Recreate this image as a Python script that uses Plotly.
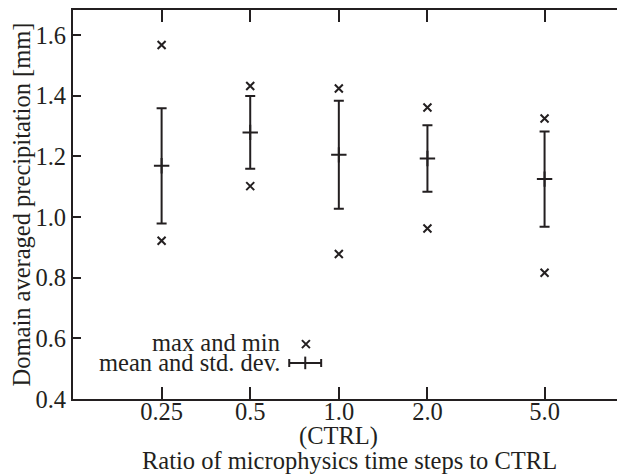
import math
import plotly.graph_objects as go

ratios = [0.25, 0.5, 1.0, 2.0, 5.0]
mean_vals = [1.169, 1.279, 1.205, 1.193, 1.125]
std_vals = [0.19, 0.12, 0.178, 0.11, 0.157]
max_vals = [1.567, 1.432, 1.424, 1.361, 1.325]
min_vals = [0.922, 1.102, 0.878, 0.962, 0.816]
tick_text = ["0.25", "0.5", "1.0", "2.0", "5.0"]
ytick_vals = [0.4, 0.6, 0.8, 1.0, 1.2, 1.4, 1.6]
ytick_text = ["0.4", "0.6", "0.8", "1.0", "1.2", "1.4", "1.6"]

# legend key glyph anchors (in axis units)
key_cross = (0.773, 0.581)
key_bar = (0.769, 0.519)
key_bar_half = (0.102, 0.0905)

INK = "#231f20"
FONT = "Liberation Serif"
FS = 24.5

fig = go.Figure()

# max and min crosses
fig.add_trace(go.Scatter(
    x=ratios + ratios, y=max_vals + min_vals, mode="markers",
    marker=dict(symbol="x-thin", size=8, line=dict(width=2, color=INK), color=INK),
    showlegend=False, hoverinfo="skip"))

# mean and std dev
fig.add_trace(go.Scatter(
    x=ratios, y=mean_vals, mode="markers",
    marker=dict(symbol="cross-thin", size=11, line=dict(width=2, color=INK), color=INK),
    error_y=dict(type="data", array=std_vals, visible=True, color=INK, thickness=2, width=5),
    showlegend=False, hoverinfo="skip"))

# legend key glyphs
fig.add_trace(go.Scatter(
    x=[key_cross[0]], y=[key_cross[1]], mode="markers",
    marker=dict(symbol="x-thin", size=8, line=dict(width=2, color=INK), color=INK),
    showlegend=False, hoverinfo="skip"))
fig.add_trace(go.Scatter(
    x=[key_bar[0]], y=[key_bar[1]], mode="markers",
    marker=dict(symbol="line-ns", size=9, line=dict(width=2, color=INK), color=INK),
    error_x=dict(type="data", array=[key_bar_half[0]], arrayminus=[key_bar_half[1]],
                 visible=True, color=INK, thickness=2, width=4),
    showlegend=False, hoverinfo="skip"))

# The page body has an 8px margin; the figure is sized so the plot area
# lands where it sits in the reference.
fig.update_layout(
    width=617, height=467,
    margin=dict(l=65, r=0, t=2, b=76),
    paper_bgcolor="white", plot_bgcolor="rgba(0,0,0,0)",
    font=dict(family=FONT, size=FS, color=INK),
    xaxis=dict(
        type="log", range=[math.log10(0.125), math.log10(9.38)],
        tickvals=ratios, ticktext=tick_text, automargin=False,
        ticks="inside", ticklen=12, tickwidth=2, tickcolor=INK,
        ticklabelstandoff=-10,
        showline=True, linewidth=2, linecolor=INK, mirror="ticks",
        showgrid=False, zeroline=False, layer="above traces",
        tickfont=dict(family=FONT, size=FS, color=INK),
    ),
    yaxis=dict(
        range=[0.4, 1.6826], tickvals=ytick_vals, ticktext=ytick_text, automargin=False,
        ticks="inside", ticklen=8, tickwidth=2, tickcolor=INK,
        showline=True, linewidth=2, linecolor=INK, mirror=False,
        showgrid=False, zeroline=False, layer="above traces",
        tickfont=dict(family=FONT, size=FS, color=INK),
        title=dict(text="Domain averaged precipitation [mm]",
                   font=dict(family=FONT, size=FS, color=INK), standoff=1),
    ),
    annotations=[
        dict(text="max and min", xref="paper", yref="paper", x=0.378, y=0.144,
             xanchor="right", yanchor="middle", showarrow=False,
             font=dict(family=FONT, size=FS, color=INK)),
        dict(text="mean and std. dev.", xref="paper", yref="paper", x=0.378, y=0.093,
             xanchor="right", yanchor="middle", showarrow=False,
             font=dict(family=FONT, size=FS, color=INK)),
        dict(text="(CTRL)", xref="x", yref="paper", x=0, y=-0.094,
             xanchor="center", yanchor="middle", showarrow=False,
             font=dict(family=FONT, size=FS, color=INK)),
        dict(text="Ratio of microphysics time steps to CTRL", xref="paper", yref="paper",
             x=0.5, y=-0.158, xanchor="center", yanchor="middle", showarrow=False,
             font=dict(family=FONT, size=FS, color=INK)),
    ],
)

fig.write_html("out.html")
